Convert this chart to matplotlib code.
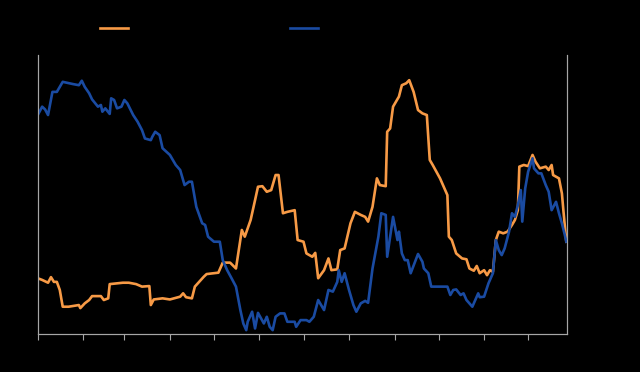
import pandas as pd
import matplotlib
matplotlib.use('Agg')
import matplotlib.pyplot as plt
import matplotlib.dates as mdates

# day offsets from Jan 1 (share of axis height)
orange_days = [0, 3, 7, 9, 11, 13, 15, 17, 21, 28, 29, 32, 35, 37, 43, 45, 48, 49, 58, 62,
               67, 71, 76, 77, 79, 85, 90, 97, 99, 101, 105, 107, 113, 115, 123, 126, 131,
               135, 139, 141, 145, 148, 150, 153, 156, 159, 162, 164, 167, 170, 175, 177,
               181, 183, 187, 189, 191, 195, 198, 200, 204, 206, 209, 213, 216, 220, 223,
               225, 228, 231, 233, 237, 238, 240, 242, 246, 248, 251, 253, 256, 259, 262,
               265, 267, 269, 274, 279, 280, 282, 285, 289, 292, 294, 297, 299, 301, 304,
               306, 308, 310, 312, 314, 317, 320, 323, 325, 327, 328, 331, 334, 337, 339,
               342, 346, 348, 350, 351, 355, 357, 358, 360]
orange_vals = [20.0, 19.4, 18.4, 20.4, 18.7, 18.7, 15.8, 9.8, 9.8, 10.4, 9.3, 11.0, 12.2,
               13.6, 13.6, 12.2, 12.8, 17.9, 18.4, 18.4, 17.9, 17.0, 17.2, 10.4, 12.4, 12.8,
               12.4, 13.4, 14.6, 13.2, 12.8, 17.0, 20.5, 21.5, 22.0, 25.6, 25.6, 23.5, 37.3,
               34.9, 40.9, 48.0, 52.8, 53.0, 51.0, 51.6, 57.0, 57.0, 43.3, 43.8, 44.4, 33.7,
               33.1, 28.9, 27.7, 29.1, 20.0, 22.9, 27.1, 22.9, 23.2, 30.1, 30.7, 39.7, 43.8,
               42.7, 42.0, 40.3, 45.6, 55.8, 53.4, 53.0, 72.5, 73.7, 81.5, 85.1, 89.2, 89.9,
               91.0, 86.8, 80.3, 79.1, 78.5, 62.4, 60.6, 55.8, 49.8, 34.9, 33.7, 28.9, 27.1,
               26.8, 23.5, 22.7, 24.4, 21.8, 22.9, 21.1, 22.9, 22.3, 33.7, 36.7, 36.1, 36.7,
               39.1, 40.9, 44.4, 60.0, 60.6, 60.2, 64.2, 61.8, 59.4, 60.0, 58.8, 60.6, 57.0,
               55.8, 50.4, 44.4, 33.1]

blue_days = [0, 3, 5, 7, 10, 13, 17, 24, 28, 30, 32, 35, 37, 41, 43, 44, 46, 49, 50, 52,
             54, 57, 59, 61, 65, 68, 71, 73, 77, 78, 80, 83, 85, 90, 94, 97, 100, 103, 105,
             108, 112, 114, 116, 120, 124, 126, 129, 132, 135, 138, 140, 142, 143, 146, 148,
             150, 154, 156, 158, 160, 162, 165, 168, 170, 175, 176, 179, 183, 185, 188, 191,
             195, 198, 201, 204, 205, 207, 209, 212, 215, 217, 220, 223, 225, 228, 232, 234,
             237, 238, 240, 242, 245, 246, 248, 250, 252, 254, 257, 259, 262, 263, 266, 268,
             279, 281, 283, 285, 288, 290, 292, 296, 298, 300, 301, 304, 307, 310, 312, 314,
             316, 318, 321, 323, 325, 327, 329, 330, 332, 334, 337, 338, 341, 343, 346, 348,
             350, 353, 355, 357, 359, 360]
blue_vals = [78.5, 81.5, 80.5, 78.5, 86.8, 86.8, 90.4, 89.6, 89.2, 90.8, 88.6, 86.3, 84.1,
             81.5, 82.1, 79.7, 80.9, 78.9, 84.5, 83.9, 80.9, 81.5, 83.9, 82.7, 78.5, 76.1,
             73.1, 70.1, 69.5, 70.7, 72.5, 71.3, 66.6, 64.2, 60.6, 58.8, 53.4, 54.6, 54.6,
             45.6, 39.7, 39.1, 34.9, 33.1, 33.1, 26.5, 22.9, 20.0, 17.0, 8.6, 3.8, 1.4, 4.4,
             8.0, 2.0, 7.6, 3.8, 6.2, 2.6, 1.4, 6.2, 7.4, 7.4, 4.4, 4.4, 2.6, 5.0, 5.0, 4.4,
             6.2, 12.2, 8.6, 15.8, 15.2, 18.7, 22.9, 18.7, 21.8, 15.8, 10.4, 8.0, 11.0, 11.9,
             11.2, 23.5, 34.9, 43.3, 42.7, 27.7, 34.9, 42.0, 33.7, 36.7, 28.9, 26.5, 26.5,
             21.8, 25.9, 28.7, 25.9, 23.5, 21.8, 17.0, 17.0, 14.0, 15.8, 16.0, 14.0, 14.6,
             12.2, 9.8, 12.2, 14.6, 13.2, 13.4, 18.2, 21.8, 33.7, 30.1, 28.3, 30.7, 36.7,
             43.3, 42.0, 46.2, 51.6, 40.3, 52.2, 58.2, 63.0, 59.4, 57.6, 57.6, 53.4, 51.0,
             44.4, 47.4, 43.3, 39.7, 35.5, 33.1]

series_names = ['Series 1 (left axis)', 'Series 2 (right axis)']

start = pd.Timestamp('2019-01-01')
orange_dates = start + pd.to_timedelta(orange_days, unit='D')
blue_dates = start + pd.to_timedelta(blue_days, unit='D')

fig = plt.figure(figsize=(6.4, 3.72), dpi=100, facecolor='black')
ax = fig.add_axes([0.059, 0.102, 0.827, 0.750], facecolor='black')
ax2 = ax.twinx()

l1, = ax.plot(orange_dates, orange_vals, color='#F79A46', linewidth=1.9, label=series_names[0])
l2, = ax2.plot(blue_dates, blue_vals, color='#1A4BA2', linewidth=1.9, label=series_names[1])

for a in (ax, ax2):
    a.set_ylim(0, 100)
    a.set_xlim(start, start + pd.Timedelta(days=360.5))
    for s in a.spines.values():
        s.set_color('#A6A6A6')
    a.spines['top'].set_visible(False)
    a.tick_params(colors='black', labelcolor='black', labelsize=8)
    a.tick_params(axis='y', length=0)

ax.xaxis.set_major_locator(mdates.MonthLocator())
ax.xaxis.set_major_formatter(mdates.DateFormatter('%b'))
ax.tick_params(axis='x', direction='out', length=4, color='#A6A6A6')

fig.legend(handles=[l1, l2], loc='upper left', bbox_to_anchor=(0.1406, 0.962), ncol=2,
           frameon=False, fontsize=8, labelcolor='black', handlelength=2.5,
           columnspacing=4.7)

plt.savefig('out.png', dpi=100, facecolor='black')
